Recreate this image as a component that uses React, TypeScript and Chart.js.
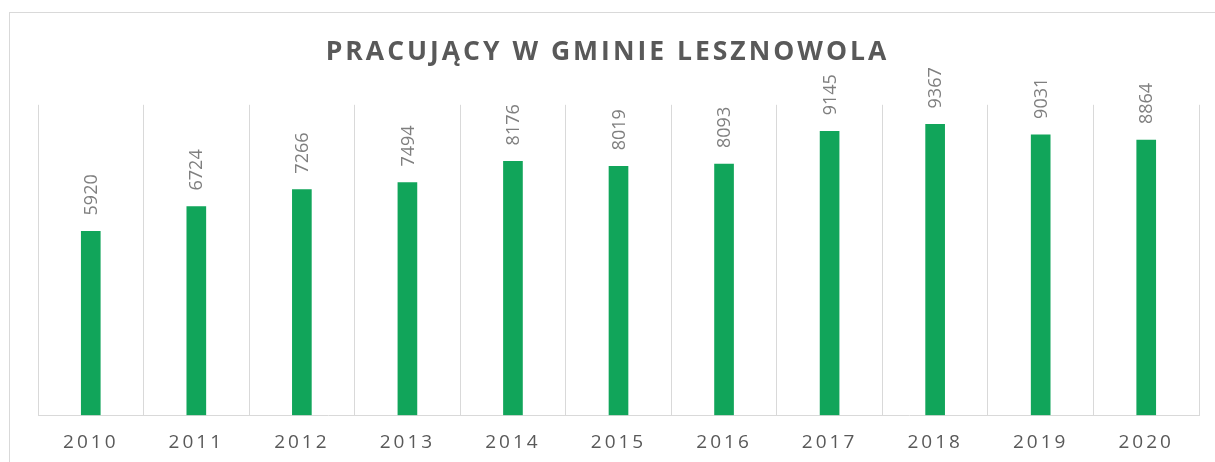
import React, { useEffect, useRef } from "react";
import { Chart, registerables } from "chart.js";

Chart.register(...registerables);

const categories = ["2010", "2011", "2012", "2013", "2014", "2015", "2016", "2017", "2018", "2019", "2020"];
const workers = [5920, 6724, 7266, 7494, 8176, 8019, 8093, 9145, 9367, 9031, 8864];
const titleText = "PRACUJĄCY W GMINIE LESZNOWOLA";

const spacingPlugin = {
  id: "spacing",
  beforeDraw(chart: any) {
    chart.ctx.letterSpacing = "3px";
  },
  beforeDatasetsDraw(chart: any) {
    chart.ctx.letterSpacing = "0px";
  },
};

const labelPlugin = {
  id: "barLabels",
  afterDatasetsDraw(chart: any) {
    const ctx = chart.ctx;
    const meta = chart.getDatasetMeta(0);
    ctx.save();
    ctx.letterSpacing = "0px";
    ctx.font = "18px 'Open Sans'";
    ctx.fillStyle = "#7f7f7f";
    ctx.textAlign = "left";
    ctx.textBaseline = "middle";
    meta.data.forEach((bar: any, i: number) => {
      ctx.save();
      ctx.translate(bar.x + 1, bar.y - 16);
      ctx.rotate(-Math.PI / 2);
      ctx.fillText(String(workers[i]), 0, 0);
      ctx.restore();
    });
    ctx.restore();
  },
};

export default function App() {
  const ref = useRef<HTMLCanvasElement>(null);
  useEffect(() => {
    document.body.style.margin = "0";
    document.body.style.overflow = "hidden";
    const chart = new Chart(ref.current!, {
      type: "bar",
      data: {
        labels: categories,
        datasets: [
          {
            data: workers,
            backgroundColor: "#11a55a",
            barThickness: 19,
          },
        ],
      },
      options: {
        animation: false,
        responsive: false,
        maintainAspectRatio: false,
        layout: { padding: { left: 16, right: 16, top: 0, bottom: -8 } },
        plugins: {
          legend: { display: false },
          tooltip: { enabled: false },
          title: {
            display: true,
            text: titleText,
            color: "#595959",
            font: { family: "'Open Sans'", size: 26.5, weight: "bold" },
            padding: { top: 37, bottom: 36 },
          },
        },
        scales: {
          x: {
            grid: { color: "#d9d9d9", drawTicks: false, offset: true },
            border: { color: "#d9d9d9" },
            ticks: {
              color: "#595959",
              font: { family: "'Open Sans'", size: 19 },
              padding: 16,
              maxRotation: 0,
              autoSkip: false,
            },
          },
          y: {
            display: true,
            min: 0,
            max: 10000,
            ticks: { display: false },
            grid: { display: false },
            border: { display: false },
            afterFit(scale: any) {
              scale.width = 22;
            },
          },
        },
      },
      plugins: [spacingPlugin, labelPlugin],
    });
    return () => chart.destroy();
  }, []);
  return (
    <div style={{ position: "relative", width: 1215, height: 462, overflow: "hidden" }}>
      <div
        style={{
          position: "absolute",
          left: 9,
          top: 12,
          width: 1300,
          height: 600,
          border: "1px solid #d9d9d9",
        }}
      />
      <canvas ref={ref} width={1215} height={462} style={{ position: "absolute", left: 0, top: 0 }} />
    </div>
  );
}
